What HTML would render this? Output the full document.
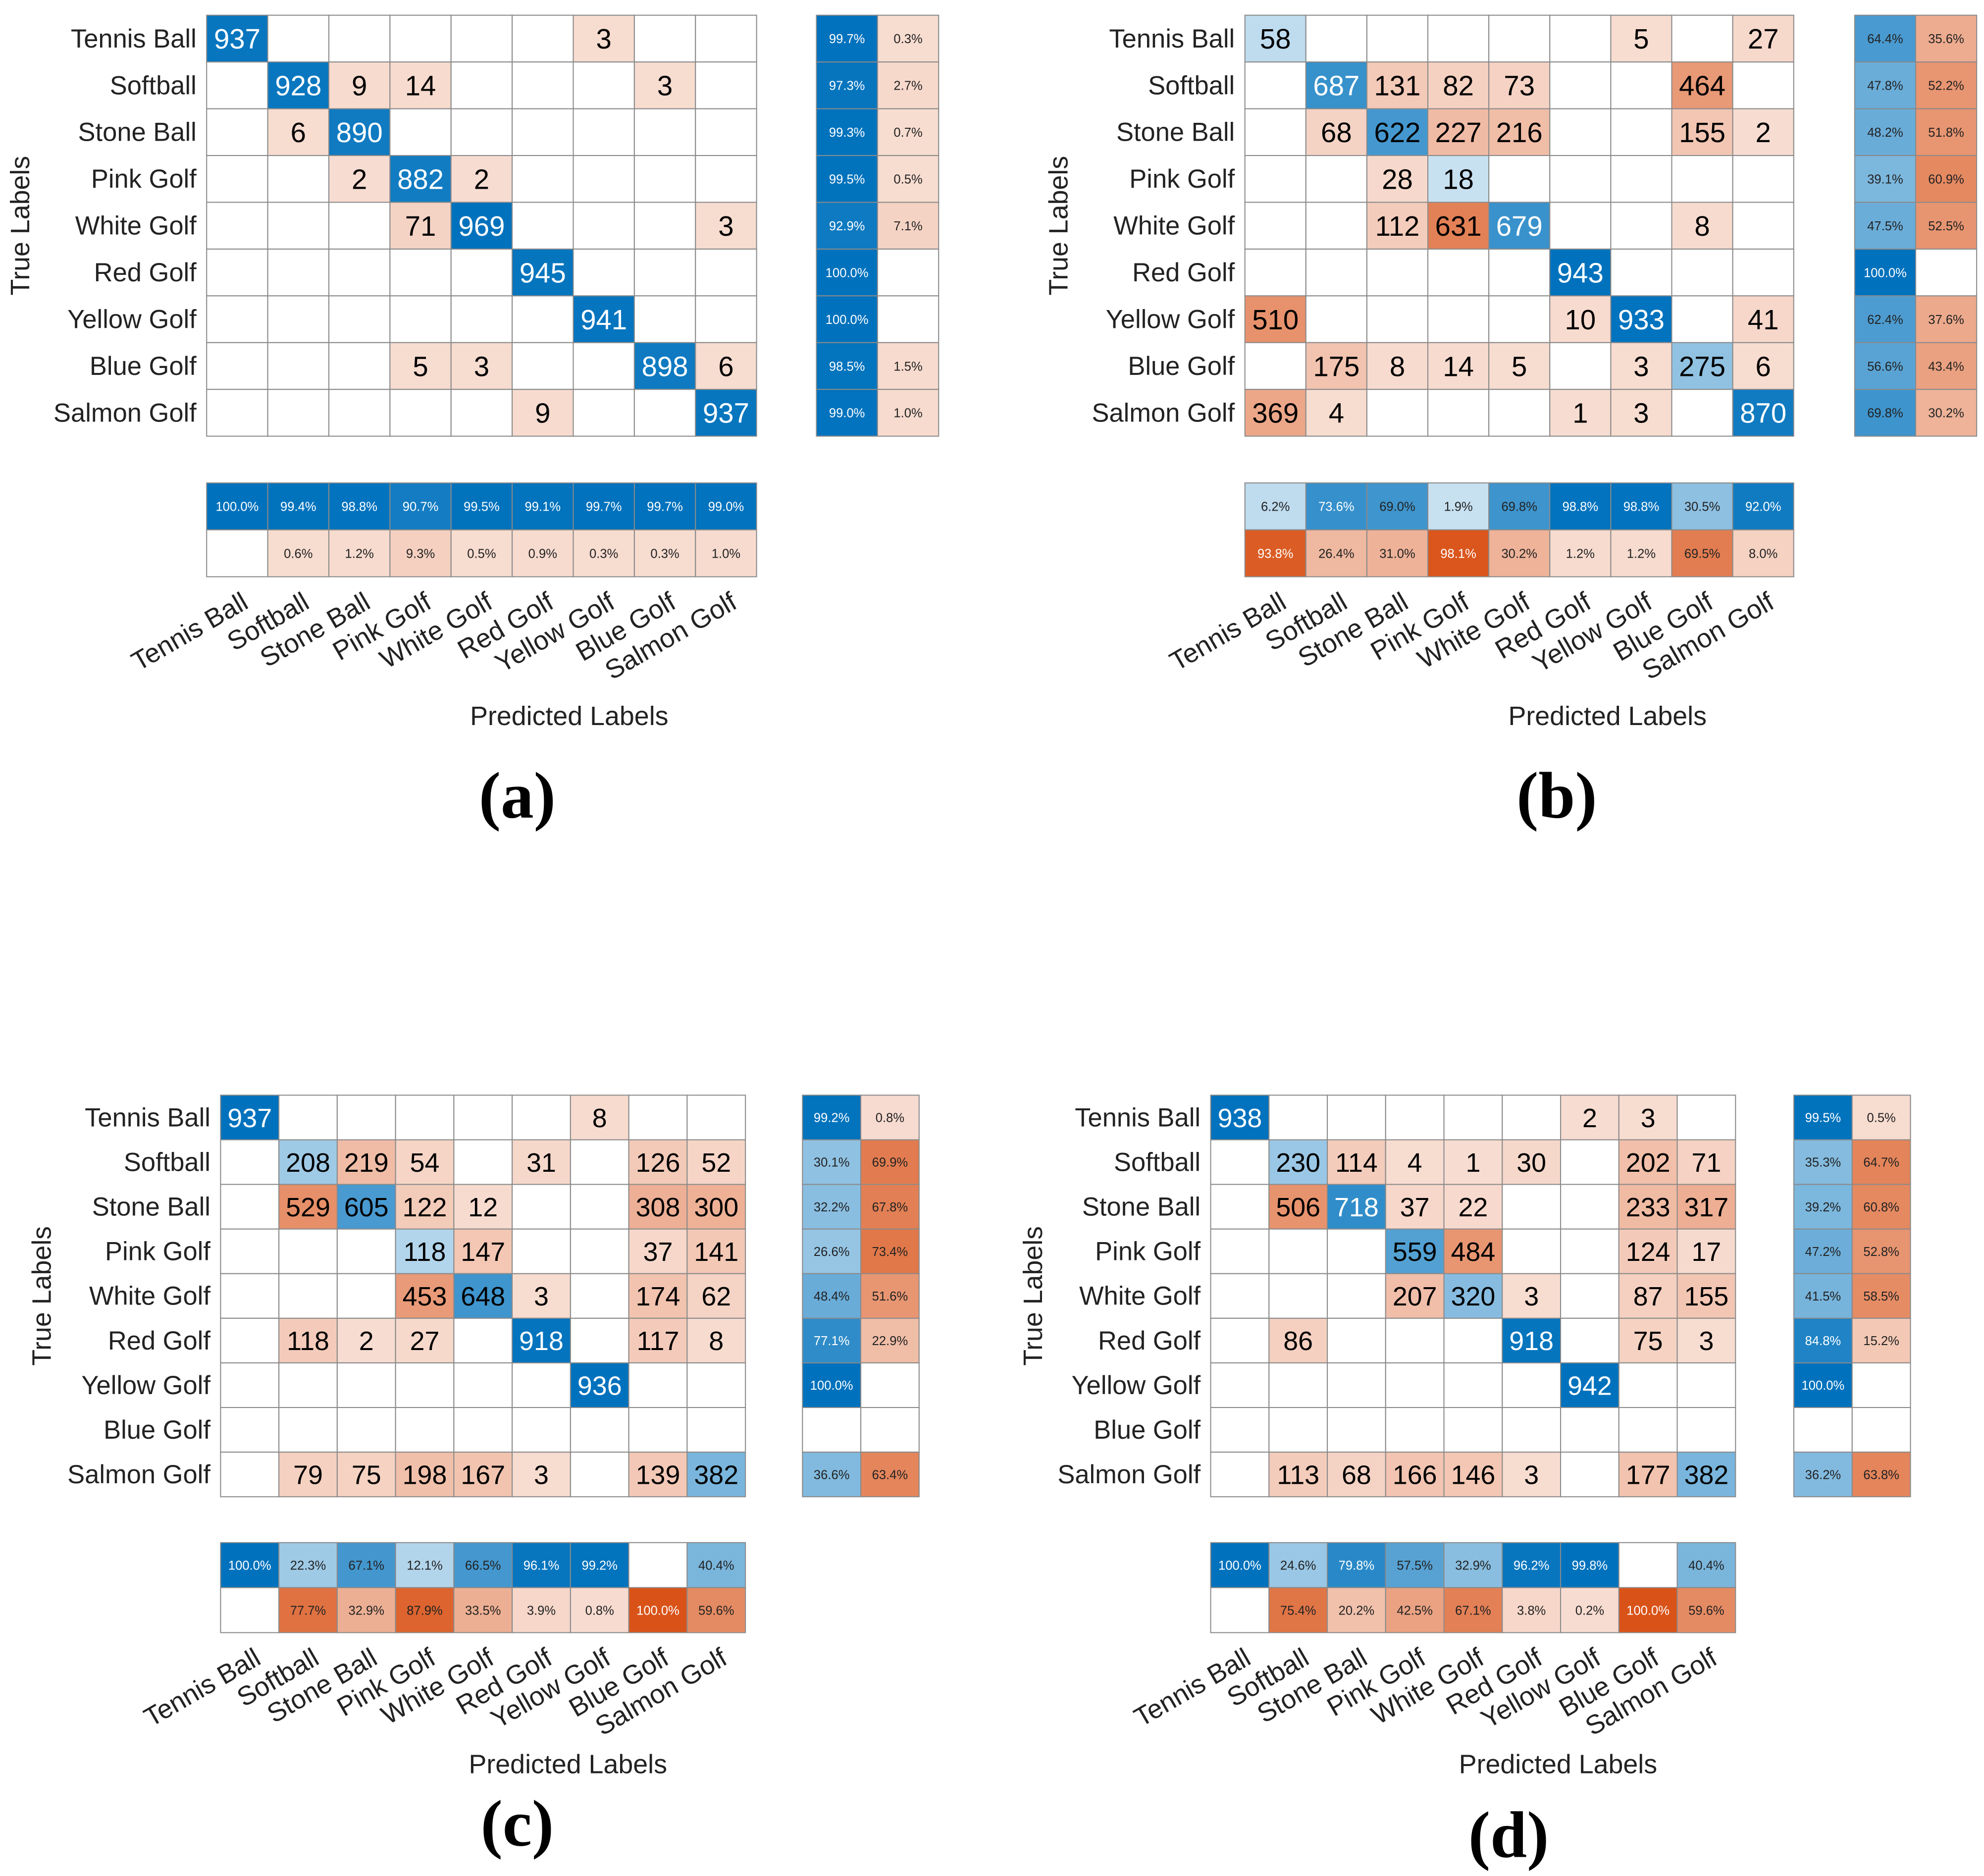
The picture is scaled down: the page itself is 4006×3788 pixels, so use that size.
<!DOCTYPE html>
<html><head><meta charset="utf-8"><style>
html,body{margin:0;padding:0;background:#fff;}
svg{display:block;}
text{font-family:"Liberation Sans",Arial,sans-serif;}
text.letter{font-family:"Liberation Serif","Times New Roman",serif;}
</style></head><body>
<svg id="fig" xmlns="http://www.w3.org/2000/svg" width="4006" height="3788" viewBox="0 0 1565 1480" preserveAspectRatio="none">
<rect x="0" y="0" width="1565" height="1480" fill="#fff"/>
</svg>
<script>
const classes=["Tennis Ball","Softball","Stone Ball","Pink Golf","White Golf","Red Golf","Yellow Golf","Blue Golf","Salmon Golf"];
const matA=[[937,0,0,0,0,0,3,0,0],[0,928,9,14,0,0,0,3,0],[0,6,890,0,0,0,0,0,0],[0,0,2,882,2,0,0,0,0],[0,0,0,71,969,0,0,0,3],[0,0,0,0,0,945,0,0,0],[0,0,0,0,0,0,941,0,0],[0,0,0,5,3,0,0,898,6],[0,0,0,0,0,9,0,0,937]];
const matB=[[58,0,0,0,0,0,5,0,27],[0,687,131,82,73,0,0,464,0],[0,68,622,227,216,0,0,155,2],[0,0,28,18,0,0,0,0,0],[0,0,112,631,679,0,0,8,0],[0,0,0,0,0,943,0,0,0],[510,0,0,0,0,10,933,0,41],[0,175,8,14,5,0,3,275,6],[369,4,0,0,0,1,3,0,870]];
const matC=[[937,0,0,0,0,0,8,0,0],[0,208,219,54,0,31,0,126,52],[0,529,605,122,12,0,0,308,300],[0,0,0,118,147,0,0,37,141],[0,0,0,453,648,3,0,174,62],[0,118,2,27,0,918,0,117,8],[0,0,0,0,0,0,936,0,0],[0,0,0,0,0,0,0,0,0],[0,79,75,198,167,3,0,139,382]];
const matD=[[938,0,0,0,0,0,2,3,0],[0,230,114,4,1,30,0,202,71],[0,506,718,37,22,0,0,233,317],[0,0,0,559,484,0,0,124,17],[0,0,0,207,320,3,0,87,155],[0,86,0,0,0,918,0,75,3],[0,0,0,0,0,0,942,0,0],[0,0,0,0,0,0,0,0,0],[0,113,68,166,146,3,0,177,382]];
const rowOkA=[99.7,97.3,99.3,99.5,92.9,100.0,100.0,98.5,99.0];
const rowErrA=[0.3,2.7,0.7,0.5,7.1,null,null,1.5,1.0];
const colOkA=[100.0,99.4,98.8,90.7,99.5,99.1,99.7,99.7,99.0];
const colErrA=[null,0.6,1.2,9.3,0.5,0.9,0.3,0.3,1.0];
const rowOkB=[64.4,47.8,48.2,39.1,47.5,100.0,62.4,56.6,69.8];
const rowErrB=[35.6,52.2,51.8,60.9,52.5,null,37.6,43.4,30.2];
const colOkB=[6.2,73.6,69.0,1.9,69.8,98.8,98.8,30.5,92.0];
const colErrB=[93.8,26.4,31.0,98.1,30.2,1.2,1.2,69.5,8.0];
const rowOkC=[99.2,30.1,32.2,26.6,48.4,77.1,100.0,null,36.6];
const rowErrC=[0.8,69.9,67.8,73.4,51.6,22.9,null,null,63.4];
const colOkC=[100.0,22.3,67.1,12.1,66.5,96.1,99.2,null,40.4];
const colErrC=[null,77.7,32.9,87.9,33.5,3.9,0.8,100.0,59.6];
const rowOkD=[99.5,35.3,39.2,47.2,41.5,84.8,100.0,null,36.2];
const rowErrD=[0.5,64.7,60.8,52.8,58.5,15.2,null,null,63.8];
const colOkD=[100.0,24.6,79.8,57.5,32.9,96.2,99.8,null,40.4];
const colErrD=[null,75.4,20.2,42.5,67.1,3.8,0.2,100.0,59.6];

const svg=document.getElementById('fig');
const NS="http://www.w3.org/2000/svg";
const BLUE=[0,114,189], ORANGE=[217,83,25];
function mix(c,t){return 'rgb('+c.map(v=>Math.round(255+(v-255)*t)).join(',')+')';}
function tint(f){return 0.2+0.8*f;}
function mk(tag,attrs){const e=document.createElementNS(NS,tag);for(const k in attrs)e.setAttribute(k,attrs[k]);svg.appendChild(e);return e;}
function cellRect(x,y,w,h,fill){return mk('rect',{x:x,y:y,width:w,height:h,fill:fill,stroke:'#8a8a8a','stroke-width':0.8});}
function txt(x,y,s,size,fill,anchor){const t=mk('text',{x:x,y:y,'font-size':size,fill:fill,'text-anchor':anchor||'middle'});t.textContent=s;return t;}

function drawPanel(p,mat,rowOk,rowErr,colOk,colErr){
  const n=classes.length;
  const xs=c=>p.x0+c*p.cw, ys=r=>p.y0+r*p.rh;
  let mx=0; mat.forEach(r=>r.forEach(v=>{if(v>mx)mx=v;}));
  for(let r=0;r<n;r++){for(let c=0;c<n;c++){
    const v=mat[r][c]; const base=(r===c)?BLUE:ORANGE;
    const fill=v>0?mix(base,tint(v/mx)):'#ffffff';
    const rc=cellRect(xs(c),ys(r),p.cw,p.rh,fill);
    
    
    if(v>0){const t=txt(xs(c)+p.cw/2,ys(r)+p.rh/2+p.fs*0.36,String(v),p.fs,(v/mx>0.7)?'#fff':'#000');
      
      }
  }
  const lb=txt(p.x0-8,ys(r)+p.rh/2+7,classes[r],20.5,'#222','end');
  
  
  }
  for(let r=0;r<n;r++){
    [[rowOk[r],BLUE,0,0.7],[rowErr[r],ORANGE,1,0.9]].forEach(([v,base,k,th])=>{
      const fill=v?mix(base,tint(v/100)):'#ffffff';
      const rc=cellRect(p.rx+k*p.cw,ys(r),p.cw,p.rh,fill);
      
      
      if(v){const t=txt(p.rx+k*p.cw+p.cw/2,ys(r)+p.rh/2+3.6,v.toFixed(1)+'%',10,(v/100>th)?'#fff':'#222');
        
        }
    });
  }
  for(let c=0;c<n;c++){
    [[colOk[c],BLUE,0,0.7],[colErr[c],ORANGE,1,0.9]].forEach(([v,base,k,th])=>{
      const fill=v?mix(base,tint(v/100)):'#ffffff';
      const y=p.by+k*p.bh;
      const rc=cellRect(xs(c),y,p.cw,p.bh,fill);
      
      
      if(v){const t=txt(xs(c)+p.cw/2,y+p.bh/2+3.6,v.toFixed(1)+'%',10,(v/100>th)?'#fff':'#222');
        
        }
    });
  }
  for(let c=0;c<n;c++){
    const ax=xs(c)+p.cw/2+10, ay=p.by+2*p.bh+24;
    const t=txt(ax,ay,classes[c],21,'#222','end');
    t.setAttribute('transform','rotate(-30 '+ax+' '+ay+')');
    
    
  }
  const yt=txt(p.tx,p.y0+n*p.rh/2,'True Labels',21,'#222','middle');
  yt.setAttribute('transform','rotate(-90 '+p.tx+' '+(p.y0+n*p.rh/2)+')');
  yt.setAttribute('dy','7');
  
  
  const xt=txt(p.px,p.py,'Predicted Labels',21,'#222','middle');
  
  
  const L=mk('text',{x:p.lx,y:p.ly,'font-size':52,'font-weight':'bold','text-anchor':'middle',fill:'#000','class':'letter'});
  L.textContent='('+p.id+')';
  
  
}
drawPanel({id:'a',x0:163,y0:12,cw:48.2,rh:36.9,fs:22,rx:644,by:381,bh:37,tx:16,px:449,py:572,lx:408,ly:645},matA,rowOkA,rowErrA,colOkA,colErrA);
drawPanel({id:'b',x0:982,y0:12,cw:48.1,rh:36.9,fs:22,rx:1463,by:381,bh:37,tx:835,px:1268,py:572,lx:1228,ly:645},matB,rowOkB,rowErrB,colOkB,colErrB);
drawPanel({id:'c',x0:174,y0:864,cw:46,rh:35.2,fs:21,rx:633,by:1217,bh:35.5,tx:33,px:448,py:1399,lx:408,ly:1456},matC,rowOkC,rowErrC,colOkC,colErrC);
drawPanel({id:'d',x0:955,y0:864,cw:46,rh:35.2,fs:21,rx:1415,by:1217,bh:35.5,tx:815,px:1229,py:1399,lx:1190,ly:1465},matD,rowOkD,rowErrD,colOkD,colErrD);
</script>
</body></html>
